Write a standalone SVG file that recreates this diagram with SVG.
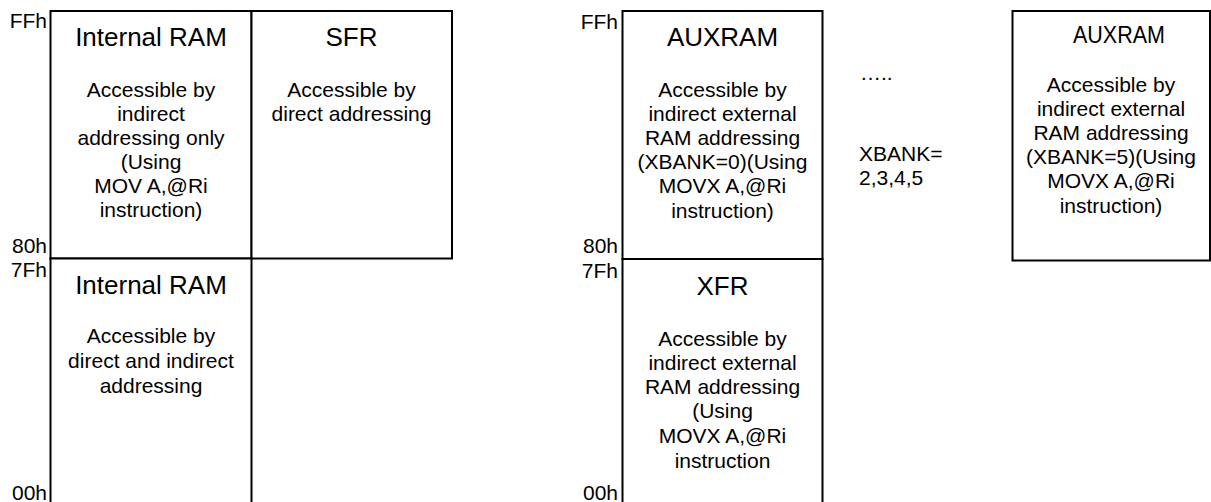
<svg xmlns="http://www.w3.org/2000/svg" width="1211" height="502" viewBox="0 0 1211 502">
<style>
.box{fill:#fff;stroke:#000;stroke-width:2}
text{font-family:"Liberation Sans",Arial,sans-serif;fill:#000}
.t{font-size:26px;text-anchor:middle}
.ts{font-size:23px;text-anchor:middle}
.b{font-size:21px;text-anchor:middle}
.a{font-size:21px;text-anchor:end}
.n{font-size:21px}
</style>
<rect width="1211" height="502" fill="#fff"/>
<g id="addr-left">
<text class="a" x="47" y="28">FFh</text>
<text class="a" x="47" y="253">80h</text>
<text class="a" x="47" y="277">7Fh</text>
<text class="a" x="47" y="500">00h</text>
</g>
<g id="addr-mid">
<text class="a" x="618" y="29">FFh</text>
<text class="a" x="618" y="253">80h</text>
<text class="a" x="618" y="278">7Fh</text>
<text class="a" x="618" y="500">00h</text>
</g>
<g id="iram-upper">
<rect class="box" x="50.5" y="11" width="201" height="247.5"/>
<text class="t" x="151" y="46">Internal RAM</text>
<text class="b" x="151" y="97">Accessible by</text>
<text class="b" x="151" y="121">indirect</text>
<text class="b" x="151" y="145">addressing only</text>
<text class="b" x="151" y="169">(Using</text>
<text class="b" x="151" y="193">MOV A,@Ri</text>
<text class="b" x="151" y="217">instruction)</text>
</g>
<g id="sfr">
<rect class="box" x="251.5" y="11" width="200.5" height="247.5"/>
<text class="t" x="351.5" y="46">SFR</text>
<text class="b" x="351.5" y="97">Accessible by</text>
<text class="b" x="351.5" y="121">direct addressing</text>
</g>
<g id="iram-lower">
<rect class="box" x="50.5" y="258.5" width="201" height="260"/>
<text class="t" x="151" y="294">Internal RAM</text>
<text class="b" x="151" y="343">Accessible by</text>
<text class="b" x="151" y="368">direct and indirect</text>
<text class="b" x="151" y="393">addressing</text>
</g>
<g id="auxram0">
<rect class="box" x="622.5" y="11" width="200" height="248"/>
<text class="t" x="722.5" y="46">AUXRAM</text>
<text class="b" x="722.5" y="97">Accessible by</text>
<text class="b" x="722.5" y="121">indirect external</text>
<text class="b" x="722.5" y="145">RAM addressing</text>
<text class="b" x="722.5" y="169">(XBANK=0)(Using</text>
<text class="b" x="722.5" y="193">MOVX A,@Ri</text>
<text class="b" x="722.5" y="218">instruction)</text>
</g>
<g id="xfr">
<rect class="box" x="622.5" y="259" width="200" height="260"/>
<text class="t" x="722.5" y="295">XFR</text>
<text class="b" x="722.5" y="346">Accessible by</text>
<text class="b" x="722.5" y="370">indirect external</text>
<text class="b" x="722.5" y="394">RAM addressing</text>
<text class="b" x="722.5" y="418">(Using</text>
<text class="b" x="722.5" y="443">MOVX A,@Ri</text>
<text class="b" x="722.5" y="468">instruction</text>
</g>
<g id="banks-note">
<text class="n" x="860" y="80">…..</text>
<text class="n" x="859" y="161">XBANK=</text>
<text class="n" x="859" y="185">2,3,4,5</text>
</g>
<g id="auxram5">
<rect class="box" x="1012.5" y="11" width="197.5" height="249.5"/>
<text class="ts" x="1119" y="43" textLength="92" lengthAdjust="spacingAndGlyphs">AUXRAM</text>
<text class="b" x="1111" y="92">Accessible by</text>
<text class="b" x="1111" y="116">indirect external</text>
<text class="b" x="1111" y="140">RAM addressing</text>
<text class="b" x="1111" y="164">(XBANK=5)(Using</text>
<text class="b" x="1111" y="188">MOVX A,@Ri</text>
<text class="b" x="1111" y="213">instruction)</text>
</g>
<g id="connectors"></g>
</svg>
